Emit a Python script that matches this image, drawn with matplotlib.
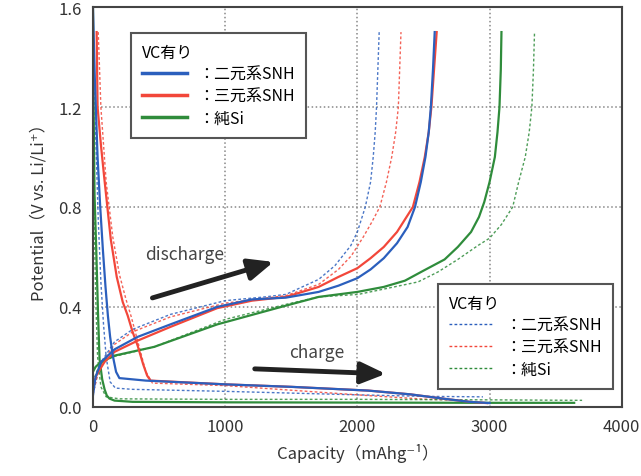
import numpy as np
import matplotlib.pyplot as plt
from matplotlib.lines import Line2D

plt.rcParams['font.family'] = ['Noto Sans CJK JP', 'DejaVu Sans']

# colours
c_blue = '#2b5fbd'
c_red = '#f2473a'
c_green = '#2f8c3b'

# ---- solid curves (VC有り) ----
# charge (lithiation)
blue_chg_x = [0, 15, 35, 55, 75, 95, 113, 130, 150, 175, 200, 400, 1000, 1500, 2083, 2400, 2660, 2850, 3000]
blue_chg_y = [1.6, 1.3, 1.0, 0.8, 0.63, 0.48, 0.365, 0.28, 0.205, 0.14, 0.115, 0.105, 0.09, 0.08, 0.065, 0.05, 0.032, 0.02, 0.015]
red_chg_x = [28, 35, 60, 85, 109, 135, 180, 225, 263, 300, 338, 380, 410, 436, 1000, 1500, 2083, 2400, 2660, 2850, 2980]
red_chg_y = [1.5, 1.2, 1.05, 0.92, 0.8, 0.67, 0.52, 0.42, 0.365, 0.3, 0.245, 0.17, 0.125, 0.105, 0.09, 0.08, 0.065, 0.05, 0.032, 0.02, 0.015]
green_chg_x = [0, 5, 12, 25, 38, 50, 70, 88, 105, 125, 163, 300, 1000, 2000, 3000, 3640]
green_chg_y = [1.6, 1.2, 0.85, 0.63, 0.38, 0.19, 0.11, 0.07, 0.045, 0.033, 0.025, 0.02, 0.018, 0.017, 0.016, 0.016]

# discharge (delithiation)
blue_dis_x = [0, 20, 62, 163, 338, 586, 940, 1203, 1459, 1707, 1857, 2000, 2100, 2200, 2300, 2380, 2436,
              2480, 2515, 2540, 2556, 2572, 2585]
blue_dis_y = [0.045, 0.12, 0.18, 0.23, 0.28, 0.33, 0.40, 0.43, 0.437, 0.46, 0.485, 0.515, 0.55, 0.595, 0.655,
              0.72, 0.8, 0.9, 1.0, 1.1, 1.2, 1.35, 1.5]
red_dis_x = [0, 30, 88, 163, 338, 586, 940, 1203, 1459, 1707, 1857, 2000, 2100, 2200, 2300, 2360, 2420,
             2470, 2510, 2540, 2560, 2580, 2600]
red_dis_y = [0.085, 0.13, 0.18, 0.22, 0.265, 0.32, 0.395, 0.425, 0.44, 0.48, 0.52, 0.555, 0.595, 0.64, 0.70,
             0.75, 0.8, 0.9, 1.0, 1.1, 1.2, 1.35, 1.5]
green_dis_x = [0, 20, 62, 163, 463, 940, 1459, 1707, 2000, 2200, 2360, 2500, 2660, 2760, 2860, 2920, 2960,
               3000, 3040, 3060, 3075, 3085, 3090]
green_dis_y = [0.14, 0.16, 0.18, 0.205, 0.24, 0.33, 0.405, 0.44, 0.46, 0.48, 0.505, 0.545, 0.59, 0.64, 0.70,
               0.76, 0.82, 0.9, 1.0, 1.1, 1.2, 1.35, 1.5]

# ---- dashed curves ----
blue_chg_x2 = [0, 20, 40, 60, 80, 100, 130, 170, 300, 1000, 2000, 2500, 2950]
blue_chg_y2 = [1.5, 1.1, 0.75, 0.5, 0.33, 0.2, 0.1, 0.075, 0.07, 0.062, 0.048, 0.042, 0.04]
red_chg_x2 = [40, 60, 100, 150, 200, 250, 290, 330, 360, 400, 450, 1000, 2083, 2530, 2700]
red_chg_y2 = [1.5, 1.2, 0.9, 0.68, 0.53, 0.43, 0.36, 0.28, 0.22, 0.14, 0.095, 0.085, 0.045, 0.03, 0.028]
green_chg_x2 = [0, 5, 10, 20, 35, 60, 100, 200, 1000, 2000, 3000, 3700]
green_chg_y2 = [1.5, 1.1, 0.75, 0.45, 0.2, 0.08, 0.04, 0.032, 0.03, 0.03, 0.028, 0.026]

blue_dis_x2 = [0, 50, 163, 300, 586, 1000, 1300, 1459, 1707, 1830, 1950, 2000, 2060, 2100, 2120, 2135,
               2145, 2155, 2165]
blue_dis_y2 = [0.05, 0.17, 0.26, 0.31, 0.37, 0.425, 0.44, 0.45, 0.51, 0.565, 0.645, 0.7, 0.8, 0.9, 1.0, 1.1,
               1.2, 1.35, 1.5]
red_dis_x2 = [0, 50, 163, 300, 586, 1000, 1300, 1459, 1707, 1857, 1955, 2045, 2110, 2170, 2220, 2260,
              2290, 2310, 2320, 2330]
red_dis_y2 = [0.05, 0.16, 0.25, 0.30, 0.36, 0.415, 0.435, 0.445, 0.49, 0.55, 0.605, 0.68, 0.74, 0.8, 0.9,
              1.0, 1.1, 1.2, 1.35, 1.5]
green_dis_x2 = [0, 50, 150, 463, 1000, 1459, 1707, 2007, 2459, 2610, 2760, 2910, 3000, 3090, 3175, 3220,
                3270, 3300, 3320, 3332, 3340]
green_dis_y2 = [0.1, 0.17, 0.2, 0.24, 0.35, 0.41, 0.44, 0.45, 0.5, 0.54, 0.59, 0.645, 0.675, 0.73, 0.8,
                0.9, 1.0, 1.1, 1.2, 1.35, 1.5]

labels = ['：二元系SNH', '：三元系SNH', '：純Si']
legend_title = 'VC有り'

fig = plt.figure(figsize=(6.41, 4.77), dpi=100)
ax = fig.add_axes([0.145, 0.145, 0.825, 0.838])

dash = (0, (2, 1.6))
for xs, ys, c in [(blue_chg_x2, blue_chg_y2, c_blue), (red_chg_x2, red_chg_y2, c_red),
                  (green_chg_x2, green_chg_y2, c_green), (blue_dis_x2, blue_dis_y2, c_blue),
                  (red_dis_x2, red_dis_y2, c_red), (green_dis_x2, green_dis_y2, c_green)]:
    ax.plot(xs, ys, color=c, lw=1.0, ls=dash, alpha=0.85)

for xs, ys, c in [(green_chg_x, green_chg_y, c_green), (green_dis_x, green_dis_y, c_green),
                  (red_chg_x, red_chg_y, c_red), (red_dis_x, red_dis_y, c_red),
                  (blue_chg_x, blue_chg_y, c_blue), (blue_dis_x, blue_dis_y, c_blue)]:
    ax.plot(xs, ys, color=c, lw=1.6)

ax.set_xlim(0, 4000)
ax.set_ylim(0, 1.6)
ax.set_xticks([0, 1000, 2000, 3000, 4000])
ax.set_yticks([0.0, 0.4, 0.8, 1.2, 1.6])
ax.set_yticklabels(['0.0', '0.4', '0.8', '1.2', '1.6'])
ax.tick_params(length=0, labelsize=12, colors='#333333', pad=8)
ax.grid(True, ls=':', color='#888888', lw=1.1)
for s in ax.spines.values():
    s.set_color('#444444')
    s.set_linewidth(1.5)

ax.set_xlabel('Capacity（mAhg⁻¹）', fontsize=12, color='#333333', labelpad=6)
ax.set_ylabel('Potential（V vs. Li/Li⁺）', fontsize=12, color='#333333', labelpad=8)

# arrows and labels
astyle = '-|>,head_length=1.5,head_width=0.65'
ax.annotate('', xy=(1366, 0.58), xytext=(450, 0.436),
            arrowprops=dict(arrowstyle=astyle, lw=3.5, color='#222222', shrinkA=0, shrinkB=0))
ax.annotate('', xy=(2215, 0.132), xytext=(1224, 0.152),
            arrowprops=dict(arrowstyle=astyle, lw=3.5, color='#222222', shrinkA=0, shrinkB=0))
ax.text(690, 0.612, 'discharge', fontsize=12.5, color='#444444', ha='center', va='center')
ax.text(1690, 0.22, 'charge', fontsize=12.5, color='#444444', ha='center', va='center')

# legends
h1 = [Line2D([], [], color=c, lw=2.5) for c in (c_blue, c_red, c_green)]
leg1 = ax.legend(h1, labels, title=legend_title, loc='upper left', bbox_to_anchor=(0.072, 0.935),
                 fontsize=11.5, title_fontsize=11.5, fancybox=False, edgecolor='#555555',
                 handlelength=2.8, labelspacing=0.3, borderpad=0.7, handletextpad=0.7,
                 borderaxespad=0, framealpha=1)
leg1._legend_box.align = 'left'
leg1.get_frame().set_linewidth(1.5)
ax.add_artist(leg1)

h2 = [Line2D([], [], color=c, lw=1.0, ls=dash) for c in (c_blue, c_red, c_green)]
leg2 = ax.legend(h2, labels, title=legend_title, loc='lower right', bbox_to_anchor=(0.983, 0.045),
                 fontsize=11.5, title_fontsize=11.5, fancybox=False, edgecolor='#555555',
                 handlelength=2.8, labelspacing=0.3, borderpad=0.7, handletextpad=0.7,
                 borderaxespad=0, framealpha=1)
leg2._legend_box.align = 'left'
leg2.get_frame().set_linewidth(1.5)

fig.savefig('out.png', dpi=100)
